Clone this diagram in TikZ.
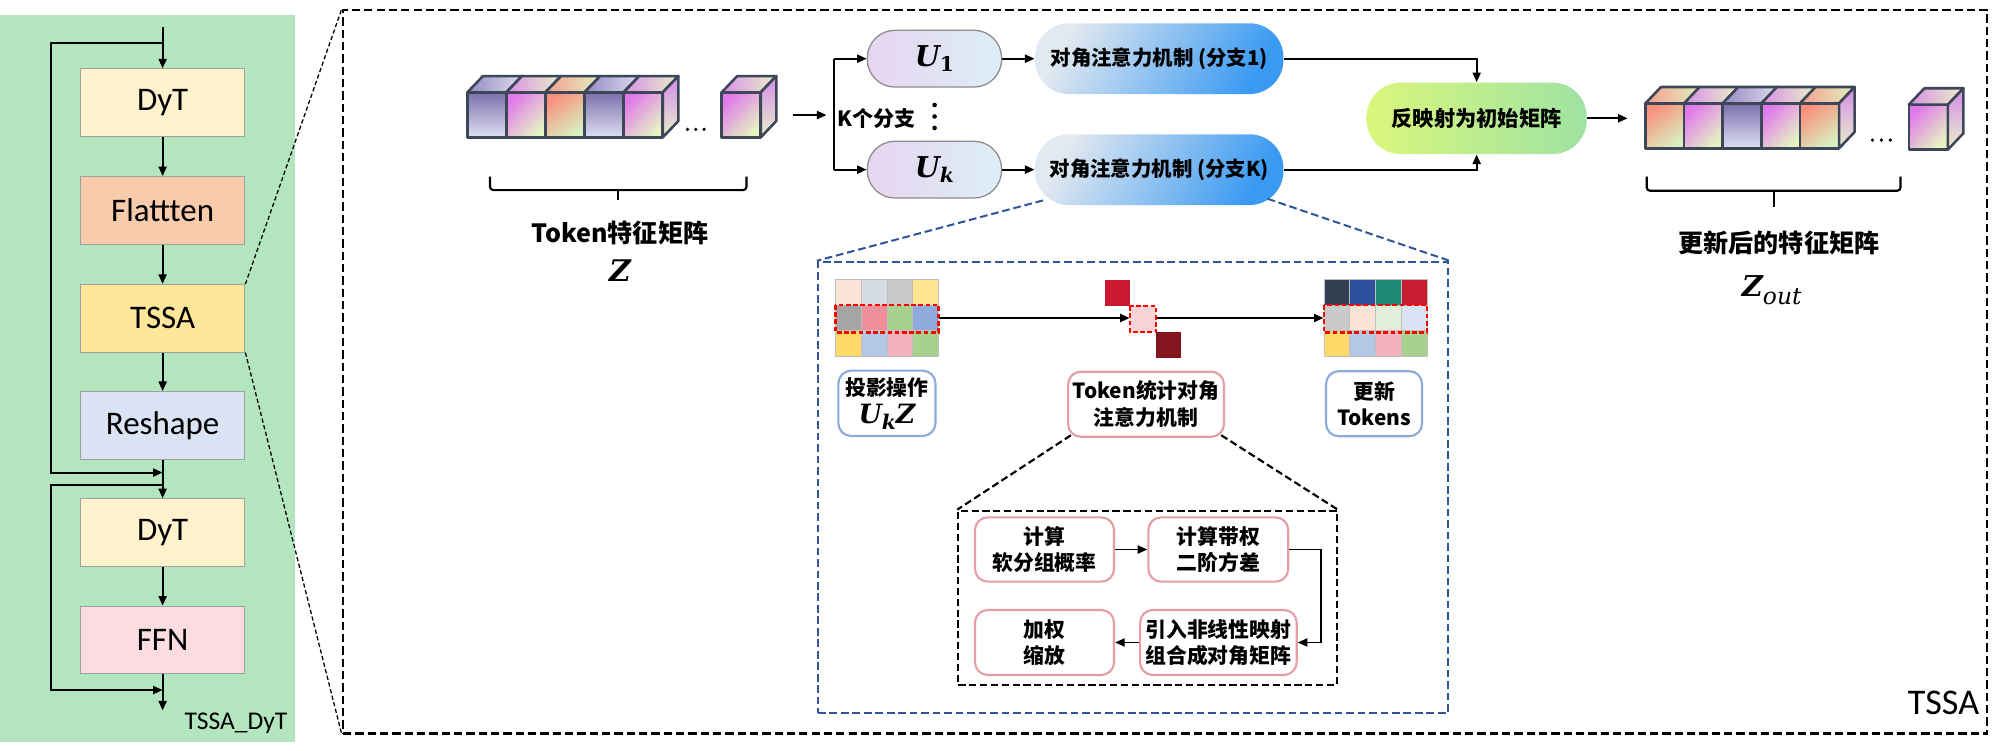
\documentclass[tikz,border=0pt]{standalone}
\usepackage{fontspec}
\setmainfont{Carlito}
\newfontfamily\cjk{Noto Sans CJK SC}
\newfontfamily\mserif{DejaVu Serif}
\usetikzlibrary{arrows.meta,calc,fit}
\definecolor{greenbg}{HTML}{B3E6BF}
\definecolor{lboxb}{HTML}{A0A0A0}
\definecolor{cDyT}{HTML}{FFF2CC}
\definecolor{cFlat}{HTML}{F8CBAD}
\definecolor{cTSSA}{HTML}{FFE699}
\definecolor{cResh}{HTML}{DAE3F3}
\definecolor{cFFN}{HTML}{FADCE2}
\definecolor{cubeedge}{HTML}{3D4757}
\definecolor{uL}{HTML}{E8D5F0}
\definecolor{uR}{HTML}{DCEEF8}
\definecolor{ugray}{HTML}{8C8C8C}
\definecolor{bL}{HTML}{E3E9F0}
\definecolor{bR}{HTML}{3A9AF2}
\definecolor{gL}{HTML}{DAF77B}
\definecolor{gR}{HTML}{9FE2A3}
\definecolor{bluedash}{HTML}{2F5597}
\definecolor{pblue}{HTML}{8EAADB}
\definecolor{ppink}{HTML}{E59DA6}
\definecolor{gridc}{HTML}{BFBFBF}
\definecolor{dsq1}{HTML}{C8192E}
\definecolor{dsq2}{HTML}{F9D5DA}
\definecolor{dsq3}{HTML}{84141E}
\definecolor{cA1}{HTML}{7C70AC}\definecolor{cA2}{HTML}{DEDFF4}
\definecolor{cA3}{HTML}{968AC2}\definecolor{cA4}{HTML}{DDDAF0}
\definecolor{cB1}{HTML}{E07AEA}\definecolor{cB2}{HTML}{E6F3C3}
\definecolor{cB3}{HTML}{D990E6}\definecolor{cB4}{HTML}{E8F0C8}
\definecolor{cC1}{HTML}{F8907C}\definecolor{cC2}{HTML}{D8F0C2}
\definecolor{cC3}{HTML}{F4A090}\definecolor{cC4}{HTML}{E2EEC0}
\definecolor{cS1}{HTML}{D58BE8}\definecolor{cS2}{HTML}{E8F1CB}
\newcommand\tcube[4]{%
  \shadedraw[#3, cubeln] (#1,#2) rectangle ++(30.6,-35.3);
  \shadedraw[#4, cubeln] (#1,#2) -- ++(12.2,12.8) -- ++(30.6,0) -- ++(-12.2,-12.8) -- cycle;
  \shadedraw[sideS, cubeln] (#1+30.6,#2) -- ++(12.2,12.8) -- ++(0,-35.3) -- ++(-12.2,-12.8) -- cycle;}
\newcommand\cell[3]{\definecolor{tmpcell}{HTML}{#3}\filldraw[fill=tmpcell, draw=gridc, line width=0.4pt] (#1,#2) rectangle ++(20.2,-20.2);}
\newcommand\bsym[1]{{\mserif\bfseries\itshape #1}}
\newcommand\bsub[1]{\raisebox{-0.4ex}{\fontsize{9.5}{10}\selectfont\mserif\bfseries #1}}
\begin{document}
\begin{tikzpicture}[x=0.6pt, y=0.6pt,
  lbox/.style={draw=lboxb, line width=0.5pt, minimum width=129*0.6pt, minimum height=53*0.6pt, inner sep=0, font=\fontsize{15.5}{18}\selectfont},
  ln/.style={line width=0.9pt},
  arr/.style={line width=0.9pt, -{Triangle[length=4.5pt,width=3.8pt]}},
  zdash/.style={line width=0.6pt, dash pattern=on 2pt off 1.2pt},
  bigdash/.style={line width=1.1pt, dash pattern=on 3.9pt off 1.9pt},
  bdash/.style={line width=0.95pt, draw=bluedash, dash pattern=on 3.6pt off 1.8pt},
  kdash/.style={line width=1pt, dash pattern=on 3.4pt off 1.7pt},
  rdash/.style={draw=red, line width=1.1pt, dash pattern=on 2.2pt off 1.2pt},
  cubeln/.style={draw=cubeedge, line width=1.2pt, line join=round},
  frontA/.style={top color=cA1, bottom color=cA2},
  topA/.style={left color=cA3, right color=cA4},
  frontB/.style={top color=cB1, bottom color=cB2, shading angle=45},
  topB/.style={left color=cB3, right color=cB4},
  frontC/.style={top color=cC1, bottom color=cC2, shading angle=35},
  topC/.style={left color=cC3, right color=cC4},
  sideS/.style={top color=cS1, bottom color=cS2},
  cjkb/.style={font=\cjk\bfseries\fontsize{9.8}{12.5}\selectfont},
  cjkbig/.style={font=\cjk\bfseries\fontsize{11.8}{14}\selectfont},
  upill/.style={draw=ugray, line width=0.6pt, rounded corners=13pt, minimum width=105.3*0.6pt, minimum height=44.5*0.6pt, inner sep=0, left color=uL, right color=uR, font=\fontsize{13.5}{15}\selectfont},
  bpill/.style={rounded corners=16pt, minimum width=194.8*0.6pt, minimum height=55.5*0.6pt, inner sep=0, left color=bL, right color=bR, shading angle=60, font=\cjk\bfseries\fontsize{9.6}{12}\selectfont},
  gpill/.style={rounded corners=16pt, minimum width=172.5*0.6pt, minimum height=56*0.6pt, inner sep=0, left color=gL, right color=gR, font=\cjk\bfseries\fontsize{10}{12}\selectfont},
  pbox/.style={draw=#1, line width=1pt, rounded corners=6pt, fill=white, inner sep=0, align=center, cjkb},
  brace/.style={line width=1pt, rounded corners=1.5pt}
]
\useasboundingbox (0,0) rectangle (1568,-588);
\fill[white] (0,0) rectangle (1568,-588);
% ---------- left panel ----------
\fill[greenbg] (0,-12) rectangle (231,-582);
\node[lbox, fill=cDyT] (dyt1) at (127.5,-80.5) {DyT};
\node[lbox, fill=cFlat] (flat) at (127.5,-165) {Flattten};
\node[lbox, fill=cTSSA] (tssa) at (127.5,-249.5) {TSSA};
\node[lbox, fill=cResh] (resh) at (127.5,-333.5) {Reshape};
\node[lbox, fill=cDyT] (dyt2) at (127.5,-417.5) {DyT};
\node[lbox, fill=cFFN] (ffn) at (127.5,-501.7) {FFN};
\coordinate (in) at (127.5,-21);
\coordinate (j1) at (127.5,-33.5);
\coordinate (r1) at (127.5,-370.5);
\coordinate (j2) at (127.5,-380);
\coordinate (r2) at (127.5,-541);
\coordinate (out) at (127.5,-557);
\draw[arr] (in) -- (dyt1);
\draw[arr] (dyt1) -- (flat);
\draw[arr] (flat) -- (tssa);
\draw[arr] (tssa) -- (resh);
\draw[arr] (resh) -- (dyt2);
\draw[arr] (dyt2) -- (ffn);
\draw[arr] (ffn) -- (out);
\draw[arr] (j1) -- ++(-87.5,0) |- (r1);
\draw[arr] (j2) -- ++(-87.5,0) |- (r2);
\node[font=\fontsize{12}{14}\selectfont, anchor=base] (lbl) at (185,-572) {TSSA\_DyT};
% ---------- big TSSA box ----------
\node[draw, bigdash, minimum width=1289.1*0.6pt, minimum height=567.2*0.6pt, inner sep=0] (big) at (913.45,-291.4) {};
\node[font=\fontsize{17}{20}\selectfont, anchor=base east, inner sep=0] (tlbl) at (1552,-560) {TSSA};
\draw[zdash] (tssa.north east) -- (big.north west);
\draw[zdash] (tssa.south east) -- (big.south west);
% ---------- input cubes ----------
\tcube{366.4}{-72.4}{frontA}{topA}
\tcube{397.0}{-72.4}{frontB}{topB}
\tcube{427.7}{-72.4}{frontC}{topC}
\tcube{458.3}{-72.4}{frontA}{topA}
\tcube{489.0}{-72.4}{frontB}{topB}
\tcube{565.8}{-72.4}{frontB}{topB}
\foreach \xx in {539,545.5,552} \fill (\xx,-101.4) circle (1.4);
\draw[brace] (384.2,-138.5) -- (384.2,-149) -- (585.2,-149) -- (585.2,-138.5);
\draw[brace] (484.7,-149) -- (484.7,-156.8);
\node[cjkbig] (tklbl) at (486,-183) {Token特征矩阵};
\node[font=\fontsize{14}{16}\selectfont] (zlbl) at (486,-212) {\bsym{Z}};
% ---------- branches ----------
\coordinate (cin) at (622,-90.2);
\coordinate (cbr) at (648,-90.2);
\coordinate (bj1) at (653.8,-46);
\coordinate (bj2) at (653.8,-133);
\node[upill] (u1) at (732.6,-46) {\bsym{U}\bsub{1}};
\node[upill] (uk) at (732.6,-133) {\bsym{U}\bsub{\itshape k}};
\draw[arr] (cin) -- (cbr);
\draw[ln] (bj1) -- (bj2);
\draw[arr] (bj1) -- (u1.west);
\draw[arr] (bj2) -- (uk.west);
\node[font=\cjk\bfseries\fontsize{9.9}{12}\selectfont] (kfz) at (687,-92.8) {K个分支};
\foreach \yy in {-82.3,-91.3,-100.3} \fill (732.7,\yy) circle (1.8);
\node[bpill] (br1) at (908.8,-46) {对角注意力机制 (分支1)};
\node[bpill] (brk) at (908.8,-133) {对角注意力机制 (分支K)};
\draw[arr] (u1.east) -- (br1.west);
\draw[arr] (uk.east) -- (brk.west);
\node[gpill] (rev) at (1157.7,-92.75) {反映射为初始矩阵};
\draw[arr] (br1.east) -| (rev.north);
\draw[arr] (brk.east) -| (rev.south);
\coordinate (cout) at (1276,-92.75);
\draw[arr] (rev.east) -- (cout);
% ---------- output cubes ----------
\tcube{1290}{-81}{frontC}{topC}
\tcube{1320.3}{-81}{frontB}{topB}
\tcube{1350.6}{-81}{frontA}{topA}
\tcube{1380.9}{-81}{frontB}{topB}
\tcube{1411.2}{-81}{frontC}{topC}
\tcube{1496.5}{-82}{frontB}{topB}
\foreach \xx in {1468,1475,1482} \fill (\xx,-109.8) circle (1.4);
\draw[brace] (1291,-138.5) -- (1291,-149.5) -- (1490,-149.5) -- (1490,-138.5);
\draw[brace] (1390.5,-149.5) -- (1390.5,-162);
\node[cjkbig] (outlbl) at (1394.7,-190.8) {更新后的特征矩阵};
\node[font=\fontsize{13.5}{15}\selectfont] (zout) at (1389,-227.4) {{\mserif\bfseries\itshape Z}\raisebox{-0.55ex}{\fontsize{11}{12}\selectfont\mserif\itshape out}};
% ---------- blue zoom box ----------
\node[draw=bluedash, bdash, minimum width=494.2*0.6pt, minimum height=353.5*0.6pt, inner sep=0] (zoomb) at (888.4,-381.95) {};
\draw[bdash] ($(brk.south west)+(6.6,3.95)$) -- (zoomb.north west);
\draw[bdash] ($(brk.south east)+(-12.7,5.25)$) -- (zoomb.north east);
% left matrix
\cell{655}{-219}{FBE3D5}\cell{675.2}{-219}{D5DCE5}\cell{695.4}{-219}{C8C8C8}\cell{715.6}{-219}{FFE58F}
\cell{655}{-239.2}{A5A5A5}\cell{675.2}{-239.2}{F0909A}\cell{695.4}{-239.2}{A9D18E}\cell{715.6}{-239.2}{8FAADC}
\cell{655}{-259.4}{FFD966}\cell{675.2}{-259.4}{B4C7E7}\cell{695.4}{-259.4}{F4B1BE}\cell{715.6}{-259.4}{A9D18E}
\draw[rdash] (655,-239.1) rectangle (735.8,-260.6);
\node[fit={(655,-219) (735.8,-279.6)}, inner sep=0] (mL) {};
% diagonal
\fill[dsq1] (866,-219.6) rectangle (886,-240);
\filldraw[fill=dsq2, rdash] (886,-240) rectangle (906.5,-260.5);
\fill[dsq3] (906.5,-260.5) rectangle (926,-280.6);
\node[fit={(886,-240) (906.5,-260.5)}, inner sep=0] (dm) {};
% right matrix
\cell{1038}{-219}{333F50}\cell{1058.2}{-219}{2E4F9E}\cell{1078.4}{-219}{1C8A73}\cell{1098.6}{-219}{C81D31}
\cell{1038}{-239.2}{C9C9C9}\cell{1058.2}{-239.2}{FBE3D5}\cell{1078.4}{-239.2}{E2F0D9}\cell{1098.6}{-239.2}{DAE3F3}
\cell{1038}{-259.4}{FFD966}\cell{1058.2}{-259.4}{B4C7E7}\cell{1078.4}{-259.4}{F4B1BE}\cell{1098.6}{-259.4}{A9D18E}
\draw[rdash] (1038,-239.1) rectangle (1118.8,-260.6);
\node[fit={(1038,-219) (1118.8,-279.6)}, inner sep=0] (mR) {};
\draw[arr] (mL.east) -- (mL.east -| dm.west);
\draw[arr] (mL.east -| dm.east) -- (mL.east -| mR.west);
% label boxes
\node[pbox=pblue, minimum width=76.1*0.6pt, minimum height=51.2*0.6pt] (p1) at (695.35,-316.2) {投影操作\\[1pt]{\fontsize{12.5}{13}\selectfont\bsym{U}\bsub{\itshape k}\bsym{Z}}};
\node[pbox=ppink, minimum width=122.2*0.6pt, minimum height=51*0.6pt] (p2) at (898.5,-316.9) {Token统计对角\\注意力机制};
\node[pbox=pblue, minimum width=75.3*0.6pt, minimum height=51*0.6pt] (p3) at (1077.25,-316.5) {更新\\Tokens};
% black dashed box
\node[draw, kdash, minimum width=296.7*0.6pt, minimum height=136.6*0.6pt, inner sep=0] (blk) at (899.65,-468.7) {};
\draw[kdash] ($(p2.south west)+(3,2)$) -- (blk.north west);
\draw[kdash] ($(p2.south east)+(-3,2)$) -- (blk.north east);
\node[pbox=ppink, minimum width=109*0.6pt, minimum height=50.4*0.6pt] (q1) at (818.9,-430.8) {计算\\软分组概率};
\node[pbox=ppink, minimum width=109.7*0.6pt, minimum height=50.4*0.6pt] (q2) at (955.15,-430.8) {计算带权\\二阶方差};
\node[pbox=ppink, minimum width=109*0.6pt, minimum height=51*0.6pt] (q3) at (818.9,-503.7) {加权\\缩放};
\node[pbox=ppink, minimum width=122.8*0.6pt, minimum height=51*0.6pt] (q4) at (955.2,-503.7) {引入非线性映射\\组合成对角矩阵};
\draw[arr] (q1.east) -- (q2.west);
\draw[arr] (q2.east) -- ++(24.9,0) |- (q4.east);
\draw[arr] (q4.west) -- (q3.east);
\end{tikzpicture}
\end{document}
